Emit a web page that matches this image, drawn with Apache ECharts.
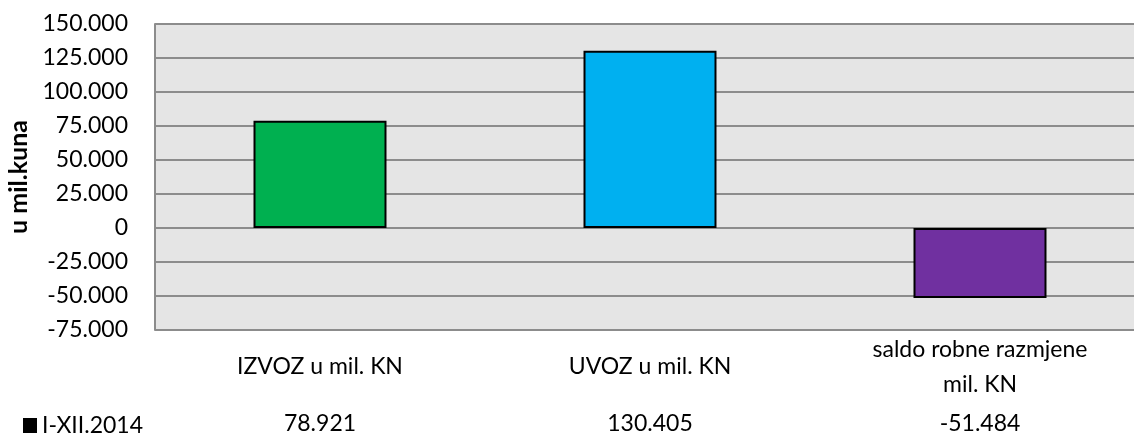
<!DOCTYPE html>
<html>
<head>
<meta charset="utf-8">
<script src="https://cdn.jsdelivr.net/npm/echarts@6/dist/echarts.min.js"></script>
<style>
  html, body { margin: 0; padding: 0; background: #ffffff; }
  #chart { width: 1134px; height: 434px; }
</style>
</head>
<body>
<div id="chart"></div>
<script>
// Robna razmjena, I-XII.2014 (u mil. kuna)
const categories = ['IZVOZ u mil. KN', 'UVOZ u mil. KN', 'saldo robne razmjene\nmil. KN'];
const values = [78921, 130405, -51484];
const barColors = ['#00B050', '#00B0F0', '#7030A0'];
const seriesName = 'I-XII.2014';
const yMin = -75000, yMax = 150000, yStep = 25000;

// Thousands separated by a dot, as in Croatian notation
function fmt(v) {
  const s = Math.abs(Math.round(v)).toString().replace(/\B(?=(\d{3})+(?!\d))/g, '.');
  return (v < 0 ? '-' : '') + s;
}

const FONT = 'Lato, "Open Sans", sans-serif';
const FS = 23;
const chart = echarts.init(document.getElementById('chart'), null, { renderer: 'canvas' });

chart.setOption({
  animation: false,
  backgroundColor: '#ffffff',
  textStyle: { fontFamily: FONT },
  grid: {
    left: 155, right: -11, top: 24, bottom: 104,
    outerBoundsMode: 'none', containLabel: false,
    show: true, backgroundColor: '#E5E5E5', borderWidth: 0
  },
  legend: {
    data: [seriesName],
    left: 18, top: 409,
    icon: 'rect', itemWidth: 14, itemHeight: 15, itemGap: 4,
    itemStyle: { color: '#000000', borderWidth: 0 },
    textStyle: { fontFamily: FONT, fontSize: FS, color: '#000000', padding: [0, 0, 0, 0] },
    selectedMode: false
  },
  xAxis: [
    {
      type: 'category',
      data: categories,
      position: 'bottom',
      axisLine: { show: false },
      axisTick: { show: false },
      axisLabel: {
        interval: 0, margin: 37, verticalAlign: 'middle', lineHeight: 35,
        fontFamily: FONT, fontSize: FS, color: '#000000'
      }
    },
    {
      // data table row under the categories
      type: 'category',
      data: values.map(fmt),
      position: 'bottom',
      axisLine: { show: false },
      axisTick: { show: false },
      axisLabel: {
        interval: 0, margin: 94, verticalAlign: 'middle',
        fontFamily: FONT, fontSize: FS, color: '#000000'
      }
    }
  ],
  yAxis: {
    type: 'value',
    min: yMin, max: yMax, interval: yStep,
    name: 'u mil.kuna',
    nameLocation: 'middle',
    nameGap: 122,
    nameRotate: 90,
    nameTextStyle: { fontFamily: FONT, fontSize: 25, fontWeight: 'bold', color: '#000000' },
    axisLine: { show: true, lineStyle: { color: '#8C8C8C', width: 2 } },
    axisTick: { show: false },
    axisLabel: {
      margin: 27, fontFamily: FONT, fontSize: FS, color: '#000000',
      formatter: v => fmt(v)
    },
    splitLine: { show: true, lineStyle: { color: '#8C8C8C', width: 2 } }
  },
  series: [{
    name: seriesName,
    type: 'bar',
    xAxisIndex: 0,
    barWidth: '40.3%',
    data: values.map((v, i) => ({
      value: v,
      itemStyle: { color: barColors[i], borderColor: '#000000', borderWidth: 2 }
    })),
    itemStyle: { color: '#000000' }
  }]
});
</script>
</body>
</html>
